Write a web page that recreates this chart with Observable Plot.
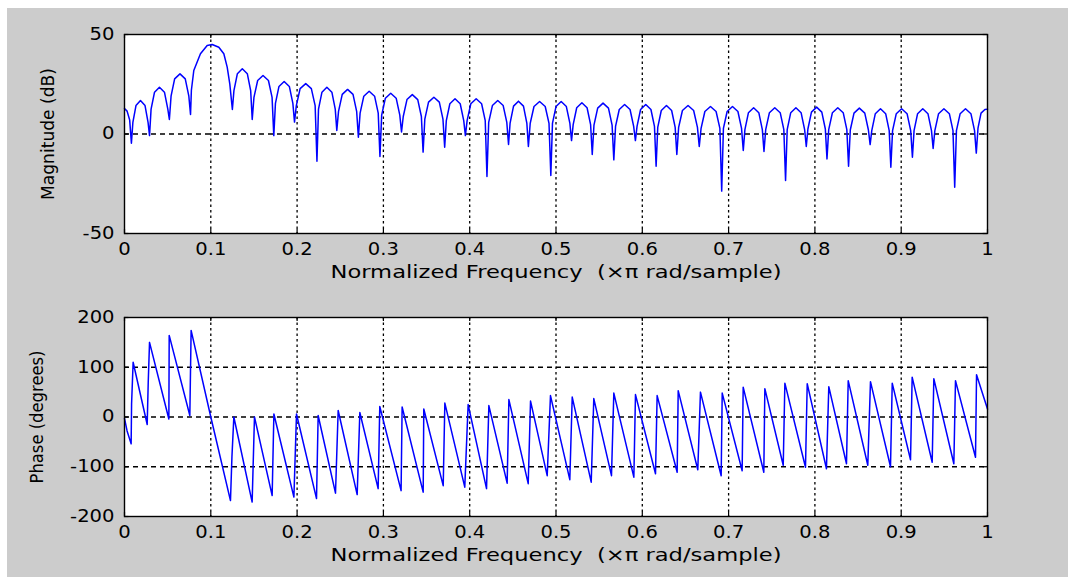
<!DOCTYPE html>
<html>
<head>
<meta charset="utf-8">
<script src="https://cdn.jsdelivr.net/npm/d3@7"></script>
<script src="https://cdn.jsdelivr.net/npm/@observablehq/plot@0.6"></script>
<style>
  html, body { margin: 0; padding: 0; background: #ffffff; width: 1068px; height: 577px; overflow: hidden; }
  #bg { position: absolute; left: 7px; top: 8px; width: 1061px; height: 569px; background: #cccccc; }
  #top { position: absolute; left: 0; top: 0; }
  #bot { position: absolute; left: 0; top: 290px; }
  svg text { font-family: "DejaVu Sans", sans-serif; }
</style>
</head>
<body>
<div id="bg"></div>
<div id="top"></div>
<div id="bot"></div>
<script>
// ---- tick values / labels ----
const freqTicks = [0, 0.1, 0.2, 0.3, 0.4, 0.5, 0.6, 0.7, 0.8, 0.9, 1];
const freqGrid = [0.1, 0.2, 0.3, 0.4, 0.5, 0.6, 0.7, 0.8, 0.9];
const magTicks = [-50, 0, 50];
const magGrid = [0];
const phaseTicks = [-200, -100, 0, 100, 200];
const phaseGrid = [-100, 0, 100];
const xLabel = "Normalized Frequency  (\u00d7\u03c0 rad/sample)";
const magLabel = "Magnitude (dB)";
const phaseLabel = "Phase (degrees)";

// ---- magnitude response: [normalized frequency, dB] ----
const magnitude = [
  [0,12.8],[0.003,11.5],[0.006,7],[0.008,-4.6],
  [0.0097,5.8],[0.0133,14.3],[0.0185,16.8],[0.0238,14.3],[0.0273,5.8],[0.029,-0.8],
  [0.0308,12.5],[0.0348,21],[0.0405,23.5],[0.0463,21],[0.0502,12.5],[0.052,7.3],
  [0.054,19.2],[0.0581,27.7],[0.0643,30.2],[0.0704,27.7],[0.0745,19.2],[0.0765,9.8],
  [0.0775,22],[0.0803,31.9],[0.088,40.3],[0.0958,44.5],[0.1016,45],[0.1093,43.6],[0.1151,40.3],[0.119,33.6],[0.122,25.2],[0.125,12.3],
  [0.1268,21.8],[0.1308,30.3],[0.1365,32.8],[0.1423,30.3],[0.1462,21.8],[0.148,7.3],
  [0.15,18.4],[0.1543,26.9],[0.1605,29.4],[0.1668,26.9],[0.171,18.4],[0.173,-0.8],
  [0.1749,15.4],[0.179,23.9],[0.185,26.4],[0.191,23.9],[0.1951,15.4],[0.197,6],
  [0.1991,14.3],[0.2035,22.8],[0.21,25.3],[0.2165,22.8],[0.2209,14.3],[0.223,-13.7],
  [0.2248,12.5],[0.2288,21],[0.2345,23.5],[0.2403,21],[0.2442,12.5],[0.246,1.8],
  [0.248,11.4],[0.2523,19.9],[0.2585,22.4],[0.2648,19.9],[0.269,11.4],[0.271,-1.6],
  [0.273,10.5],[0.2773,19],[0.2835,21.5],[0.2898,19],[0.294,10.5],[0.296,-11.3],
  [0.298,9.5],[0.3023,18],[0.3085,20.5],[0.3148,18],[0.319,9.5],[0.321,1],
  [0.323,8.8],[0.3273,17.3],[0.3335,19.8],[0.3398,17.3],[0.344,8.8],[0.346,-9.1],
  [0.348,7.5],[0.3523,16],[0.3585,18.5],[0.3648,16],[0.369,7.5],[0.371,-6.6],
  [0.3729,6.7],[0.377,15.2],[0.383,17.7],[0.389,15.2],[0.3931,6.7],[0.395,-0.8],
  [0.397,6.7],[0.4013,15.2],[0.4075,17.7],[0.4138,15.2],[0.418,6.7],[0.42,-21.4],
  [0.422,5.8],[0.4263,14.3],[0.4325,16.8],[0.4388,14.3],[0.443,5.8],[0.445,-5.3],
  [0.4468,5.5],[0.4508,14],[0.4565,16.5],[0.4623,14],[0.4662,5.5],[0.468,-6.3],
  [0.4701,5.3],[0.4745,13.8],[0.481,16.3],[0.4875,13.8],[0.4919,5.3],[0.494,-20.9],
  [0.4959,5.3],[0.5,13.8],[0.506,16.3],[0.512,13.8],[0.5161,5.3],[0.518,-3.3],
  [0.5199,4.7],[0.524,13.2],[0.53,15.7],[0.536,13.2],[0.5401,4.7],[0.542,-10.3],
  [0.544,4.5],[0.5483,13],[0.5545,15.5],[0.5608,13],[0.565,4.5],[0.567,-13],
  [0.569,3.8],[0.5733,12.3],[0.5795,14.8],[0.5858,12.3],[0.59,3.8],[0.592,-3.3],
  [0.5939,3.8],[0.598,12.3],[0.604,14.8],[0.61,12.3],[0.6141,3.8],[0.616,-16.2],
  [0.6179,3.3],[0.622,11.8],[0.628,14.3],[0.634,11.8],[0.6381,3.3],[0.64,-10.3],
  [0.6421,3.3],[0.6465,11.8],[0.653,14.3],[0.6595,11.8],[0.6639,3.3],[0.666,-6.3],
  [0.6681,2.8],[0.6725,11.3],[0.679,13.8],[0.6855,11.3],[0.6899,2.8],[0.692,-28.7],
  [0.694,2.8],[0.6983,11.3],[0.7045,13.8],[0.7108,11.3],[0.715,2.8],[0.717,-8.3],
  [0.7189,2.2],[0.723,10.7],[0.729,13.2],[0.735,10.7],[0.7391,2.2],[0.741,-8.8],
  [0.743,2.2],[0.7473,10.7],[0.7535,13.2],[0.7598,10.7],[0.764,2.2],[0.766,-23.4],
  [0.7679,2.2],[0.772,10.7],[0.778,13.2],[0.784,10.7],[0.7881,2.2],[0.79,-6.3],
  [0.7919,2.5],[0.796,11],[0.802,13.5],[0.808,11],[0.8121,2.5],[0.814,-12.5],
  [0.816,2.2],[0.8203,10.7],[0.8265,13.2],[0.8328,10.7],[0.837,2.2],[0.839,-16.2],
  [0.841,2],[0.8453,10.5],[0.8515,13],[0.8578,10.5],[0.862,2],[0.864,-5.3],
  [0.8659,1.7],[0.87,10.2],[0.876,12.7],[0.882,10.2],[0.8861,1.7],[0.888,-16.7],
  [0.89,1.7],[0.8943,10.2],[0.9005,12.7],[0.9068,10.2],[0.911,1.7],[0.913,-11.7],
  [0.9149,1.7],[0.919,10.2],[0.925,12.7],[0.931,10.2],[0.9351,1.7],[0.937,-7.3],
  [0.939,1.7],[0.9433,10.2],[0.9495,12.7],[0.9558,10.2],[0.96,1.7],[0.962,-26.7],
  [0.964,1.7],[0.9683,10.2],[0.9745,12.7],[0.9808,10.2],[0.985,1.7],[0.987,-9.6],
  [0.989,3],[0.9925,10.5],[0.997,12.3],[1,12.5]
];

// ---- phase response: [normalized frequency, degrees] ----
const phase = [
  [0,-3],[0.003,-28],[0.0077,-54],[0.0082,26],[0.010,110],
  [0.0263,-15],[0.0275,70],[0.029,150],
  [0.0514,-4],[0.0518,164],
  [0.0757,3],[0.0772,174],
  [0.1,0],[0.1228,-168],[0.1245,-80],[0.1267,0],
  [0.1479,-171],[0.1506,0],
  [0.1711,-158],[0.1731,6],
  [0.1963,-161],[0.1993,6],
  [0.2225,-164],[0.2244,3],
  [0.2445,-153],[0.2476,13],
  [0.2696,-156],[0.2727,9],
  [0.2939,-144],[0.2958,21],
  [0.3205,-148],[0.3217,20],
  [0.3461,-151],[0.3468,16],
  [0.3693,-138],[0.3712,28],
  [0.3943,-141],[0.3982,25],
  [0.4195,-144],[0.4222,23],
  [0.4434,-133],[0.4454,35],
  [0.4678,-134],[0.4705,32],
  [0.4898,-118],[0.4936,43],
  [0.516,-126],[0.5188,40],
  [0.5408,-131],[0.5438,37],
  [0.5643,-118],[0.567,48],
  [0.5902,-121],[0.5921,45],
  [0.6153,-114],[0.6172,43],
  [0.6404,-111],[0.6416,53],
  [0.6643,-106],[0.6674,50],
  [0.6914,-118],[0.6926,48],
  [0.7157,-108],[0.7169,60],
  [0.7408,-111],[0.742,57],
  [0.7633,-97],[0.7652,68],
  [0.7891,-101],[0.7911,67],
  [0.8134,-104],[0.8161,61],
  [0.8366,-94],[0.8386,73],
  [0.8613,-97],[0.8644,71],
  [0.8876,-100],[0.8896,68],
  [0.9108,-86],[0.9127,80],
  [0.9359,-91],[0.9378,77],
  [0.961,-94],[0.9629,73],
  [0.9861,-81],[0.9873,85],
  [1,16]
];

const FONT = "DejaVu Sans";
// target on-screen lengths of the wide MATLAB-style labels
const labelLengths = {[xLabel]: 451, [magLabel]: 132, [phaseLabel]: 133};
const tickStretch = 1.15;

function panel({data, yDomain, yTicks, yGrid, yLabel, height, marginTop, marginBottom, yTickLen, yLabelDx}) {
  const [y0, y1] = yDomain;
  const xTickLen = 0.005;
  return Plot.plot({
    width: 1068,
    height,
    marginLeft: 124,
    marginRight: 81,
    marginTop,
    marginBottom,
    style: {background: "transparent", fontFamily: FONT, fontSize: "17px", color: "black", overflow: "visible"},
    x: {domain: [0, 1], ticks: freqTicks, tickFormat: d => String(d), tickSize: 0, tickPadding: 9, label: null},
    y: {domain: yDomain, ticks: yTicks, tickFormat: d => String(d), tickSize: 0, tickPadding: 10, label: null},
    marks: [
      Plot.frame({fill: "white", stroke: null}),
      Plot.ruleX(freqGrid, {x: d => d, stroke: "black", strokeWidth: 1.3, strokeDasharray: "2.5,3"}),
      Plot.ruleY(yGrid, {y: d => d, stroke: "black", strokeWidth: 1.3, strokeDasharray: "5,4"}),
      // inward tick marks (MATLAB style)
      Plot.ruleX(freqTicks, {x: d => d, y1: y0, y2: y0 + yTickLen, stroke: "black", strokeWidth: 1.2}),
      Plot.ruleX(freqTicks, {x: d => d, y1: y1, y2: y1 - yTickLen, stroke: "black", strokeWidth: 1.2}),
      Plot.ruleY(yTicks, {y: d => d, x1: 0, x2: xTickLen, stroke: "black", strokeWidth: 1.2}),
      Plot.ruleY(yTicks, {y: d => d, x1: 1, x2: 1 - xTickLen, stroke: "black", strokeWidth: 1.2}),
      Plot.line(data, {x: d => d[0], y: d => d[1], stroke: "#0000ff", strokeWidth: 1.5}),
      Plot.frame({stroke: "black", strokeWidth: 1.4}),
      Plot.text([xLabel], {text: d => d, frameAnchor: "bottom", dy: 44, textAnchor: "middle", fontSize: 17, fontFamily: FONT, fill: "black"}),
      Plot.text([yLabel], {text: d => d, frameAnchor: "left", rotate: -90, dx: yLabelDx, textAnchor: "middle", fontSize: 17, fontFamily: FONT, fill: "black"})
    ]
  });
}

function widen(svg) {
  svg.querySelectorAll("text").forEach(t => {
    const s = t.textContent;
    const natural = t.getComputedTextLength();
    if (!natural) return;
    const target = labelLengths[s] !== undefined ? labelLengths[s] : natural * tickStretch;
    t.setAttribute("textLength", target.toFixed(1));
    t.setAttribute("lengthAdjust", "spacingAndGlyphs");
  });
}

const topSvg = panel({
  data: magnitude, yDomain: [-50, 50], yTicks: magTicks, yGrid: magGrid, yLabel: magLabel,
  height: 290, marginTop: 34, marginBottom: 57, yTickLen: 2, yLabelDx: -76
});
document.getElementById("top").appendChild(topSvg);
const botSvg = panel({
  data: phase, yDomain: [-200, 200], yTicks: phaseTicks, yGrid: phaseGrid, yLabel: phaseLabel,
  height: 287, marginTop: 27, marginBottom: 61, yTickLen: 8, yLabelDx: -87
});
document.getElementById("bot").appendChild(botSvg);
widen(topSvg);
widen(botSvg);
</script>
</body>
</html>
